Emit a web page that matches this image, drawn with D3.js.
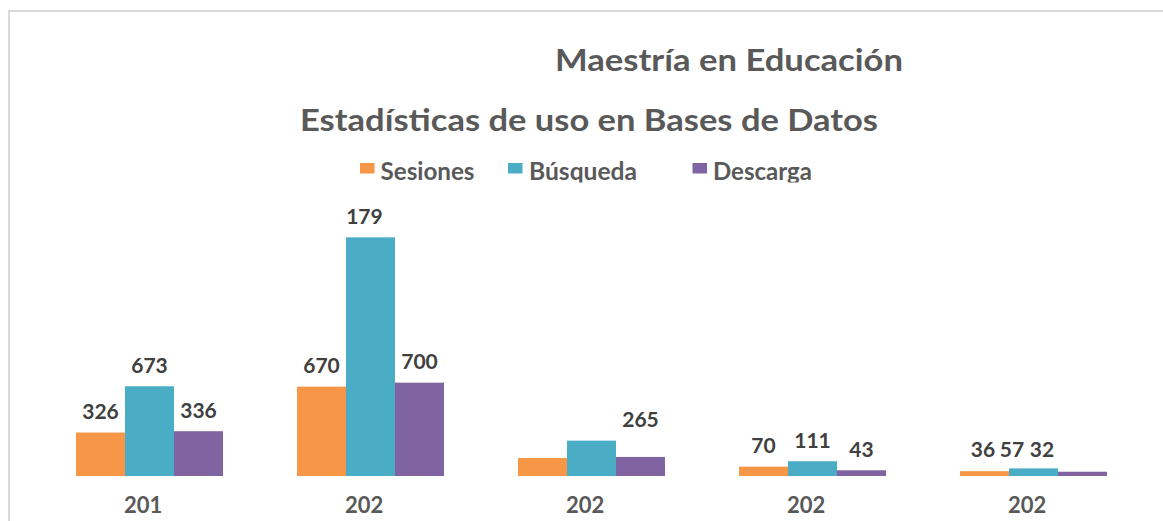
<!DOCTYPE html>
<html>
<head>
<meta charset="utf-8">
<script src="https://cdn.jsdelivr.net/npm/d3@7"></script>
<style>
  html, body { margin: 0; padding: 0; background: #ffffff; }
  svg { display: block; font-family: Lato, "Open Sans", "DejaVu Sans", sans-serif; font-weight: 700; }
</style>
</head>
<body>
<svg id="chart" width="1163" height="521"></svg>
<script>
// Usage statistics per year for the Master's in Education databases
const years = ["2019", "2020", "2021", "2022", "2023"];
const seriesNames = ["Sesiones", "Búsqueda", "Descarga"];
const sesiones = [326, 670, 135, 70, 36];
const busqueda = [673, 1790, 265, 111, 57];
const descarga = [336, 700, 143, 43, 32];
const seriesColors = ["#F79646", "#4BACC6", "#8064A2"];

const titleMain = "Maestría en Educación";
const titleSub = "Estadísticas de uso en Bases de Datos";

// Label boxes are only three characters wide; longer strings are cut off.
const labelChars = 3;
// Labels that are suppressed, and labels pushed aside to avoid overlaps.
const hiddenLabels = new Set(["2-0", "2-2"]);
const labelShift = { "2-1": 49, "4-0": -1.5, "4-1": -21.5, "4-2": -40.5 };
const labelLift = { "4-0": -0.7, "4-1": 2.1, "4-2": -1.2 };

const seriesValues = [sesiones, busqueda, descarga];
const rows = years.map((y, i) => ({ year: y, idx: i, values: seriesValues.map(s => s[i]) }));

const svg = d3.select("#chart");

// frame edge
svg.append("path")
  .attr("d", "M9,521V11H1163")
  .attr("fill", "none")
  .attr("stroke", "#d9d9d9")
  .attr("stroke-width", 2);

const x0 = d3.scaleBand()
  .domain(d3.range(years.length))
  .range([39, 1144])
  .paddingInner(0.335)
  .paddingOuter(0.1675);

const x1 = d3.scaleBand()
  .domain(d3.range(seriesNames.length))
  .range([0, x0.bandwidth()]);

const y = d3.scaleLinear()
  .domain([0, 2000])
  .range([476, 209.33]);

// titles
svg.append("text")
  .attr("x", 555).attr("y", 70.7)
  .attr("font-size", 31)
  .attr("fill", "#595959")
  .attr("textLength", 348).attr("lengthAdjust", "spacingAndGlyphs")
  .text(titleMain);

svg.append("text")
  .attr("x", 300).attr("y", 130.5)
  .attr("font-size", 31)
  .attr("fill", "#595959")
  .attr("textLength", 578).attr("lengthAdjust", "spacingAndGlyphs")
  .text(titleSub);

// legend (text descenders cut by the legend box)
const defs = svg.append("defs");
defs.append("clipPath").attr("id", "legendClip")
  .append("rect").attr("x", 0).attr("y", 140).attr("width", 1163).attr("height", 42.5);

const legendPos = [
  { sx: 360, tx: 380.5, tw: 94 },
  { sx: 508, tx: 529, tw: 108 },
  { sx: 692.5, tx: 713, tw: 99 }
];
const legend = svg.append("g").attr("clip-path", "url(#legendClip)");
seriesNames.forEach((name, i) => {
  legend.append("rect")
    .attr("x", legendPos[i].sx).attr("y", 163)
    .attr("width", 14.5).attr("height", 10.5)
    .attr("fill", seriesColors[i]);
  legend.append("text")
    .attr("x", legendPos[i].tx).attr("y", 179.5)
    .attr("font-size", 25)
    .attr("fill", "#595959")
    .attr("textLength", legendPos[i].tw).attr("lengthAdjust", "spacingAndGlyphs")
    .text(name);
});

// bars
const groups = svg.append("g").selectAll("g")
  .data(rows)
  .join("g")
  .attr("transform", d => `translate(${x0(d.idx)},0)`);

groups.selectAll("rect")
  .data(d => d.values.map((v, s) => ({ v, s })))
  .join("rect")
  .attr("x", d => x1(d.s))
  .attr("y", d => y(d.v))
  .attr("width", x1.bandwidth())
  .attr("height", d => y(0) - y(d.v))
  .attr("fill", d => seriesColors[d.s]);

// measure a string at a given font size
const probe = svg.append("text").attr("visibility", "hidden");
function textWidth(str, size) {
  probe.attr("font-size", size).text(str);
  return probe.node().getComputedTextLength();
}

// place a label centred on cx, trimmed to the box width
function boxedLabel(parent, str, cx, baseY, size, color) {
  const full = textWidth(str, size);
  const shown = str.length > labelChars ? str.slice(0, labelChars) : str;
  parent.append("text")
    .attr("x", cx - full / 2)
    .attr("y", baseY)
    .attr("font-size", size)
    .attr("fill", color)
    .attr("text-anchor", "start")
    .text(shown);
}

// value labels
const labelLayer = svg.append("g");
rows.forEach(r => {
  r.values.forEach((v, s) => {
    const key = `${r.idx}-${s}`;
    if (hiddenLabels.has(key)) return;
    const cx = x0(r.idx) + x1(s) + x1.bandwidth() / 2 + (labelShift[key] || 0);
    const by = y(v) - 13.5 + (labelLift[key] || 0);
    boxedLabel(labelLayer, String(v), cx, by, 21, "#404040");
  });
});

// category labels
const axisLayer = svg.append("g");
rows.forEach(r => {
  boxedLabel(axisLayer, r.year, x0(r.idx) + x0.bandwidth() / 2, 512.7, 22, "#595959");
});

probe.remove();
</script>
</body>
</html>
